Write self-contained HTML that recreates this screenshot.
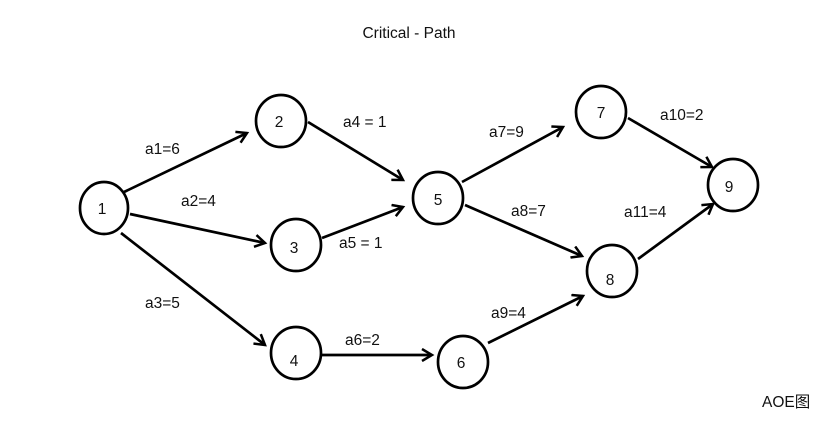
<!DOCTYPE html>
<html><head><style>body{margin:0;background:#fff}svg{display:block}text{font-family:"Liberation Sans","Noto Sans CJK SC",sans-serif;font-size:15.5px;fill:#111}</style></head><body>
<svg width="839" height="430" viewBox="0 0 839 430">
<defs><marker id="a" markerWidth="14" markerHeight="14" refX="11" refY="7" orient="auto" markerUnits="userSpaceOnUse"><path d="M1,1 L11,7 L1,13" fill="none" stroke="#000" stroke-width="2.5"/></marker></defs>
<g fill="none" stroke="#000" stroke-width="2.7">
<ellipse cx="104" cy="208" rx="24" ry="26"/>
<ellipse cx="281" cy="121" rx="25" ry="26"/>
<ellipse cx="296" cy="245" rx="25" ry="26"/>
<ellipse cx="296" cy="353" rx="25" ry="26"/>
<ellipse cx="438" cy="198" rx="25" ry="26"/>
<ellipse cx="463" cy="362" rx="25" ry="26"/>
<ellipse cx="601" cy="112" rx="25" ry="26"/>
<ellipse cx="612" cy="271" rx="25" ry="26"/>
<ellipse cx="733" cy="185" rx="25" ry="26"/>
</g>
<g stroke="#000" stroke-width="2.7" marker-end="url(#a)">
<line x1="124" y1="192" x2="247" y2="133"/>
<line x1="130" y1="214" x2="265" y2="243"/>
<line x1="121" y1="233" x2="265" y2="345"/>
<line x1="308" y1="122" x2="403" y2="180"/>
<line x1="322" y1="238" x2="403" y2="207"/>
<line x1="322" y1="355" x2="432" y2="355"/>
<line x1="462" y1="182" x2="563" y2="127"/>
<line x1="465" y1="205" x2="582" y2="256"/>
<line x1="488" y1="343" x2="583" y2="296"/>
<line x1="628" y1="118" x2="712" y2="167"/>
<line x1="638" y1="259" x2="713" y2="204"/>
</g>
<g text-anchor="middle">
<text x="409" y="38">Critical - Path</text>
<text x="102" y="214">1</text><text x="279" y="127">2</text><text x="294" y="253">3</text>
<text x="294" y="366">4</text><text x="438" y="205">5</text><text x="461" y="368">6</text>
<text x="601" y="118">7</text><text x="610" y="285">8</text><text x="729" y="192">9</text>
</g>
<g>
<text x="145" y="154">a1=6</text><text x="181" y="206">a2=4</text><text x="145" y="308">a3=5</text>
<text x="343" y="127">a4 = 1</text><text x="339" y="248">a5 = 1</text><text x="345" y="345">a6=2</text>
<text x="489" y="137">a7=9</text><text x="511" y="216">a8=7</text><text x="491" y="318">a9=4</text>
<text x="660" y="120">a10=2</text><text x="624" y="217">a11=4</text>
<text x="762" y="407">AOE图</text>
</g>
</svg></body></html>
